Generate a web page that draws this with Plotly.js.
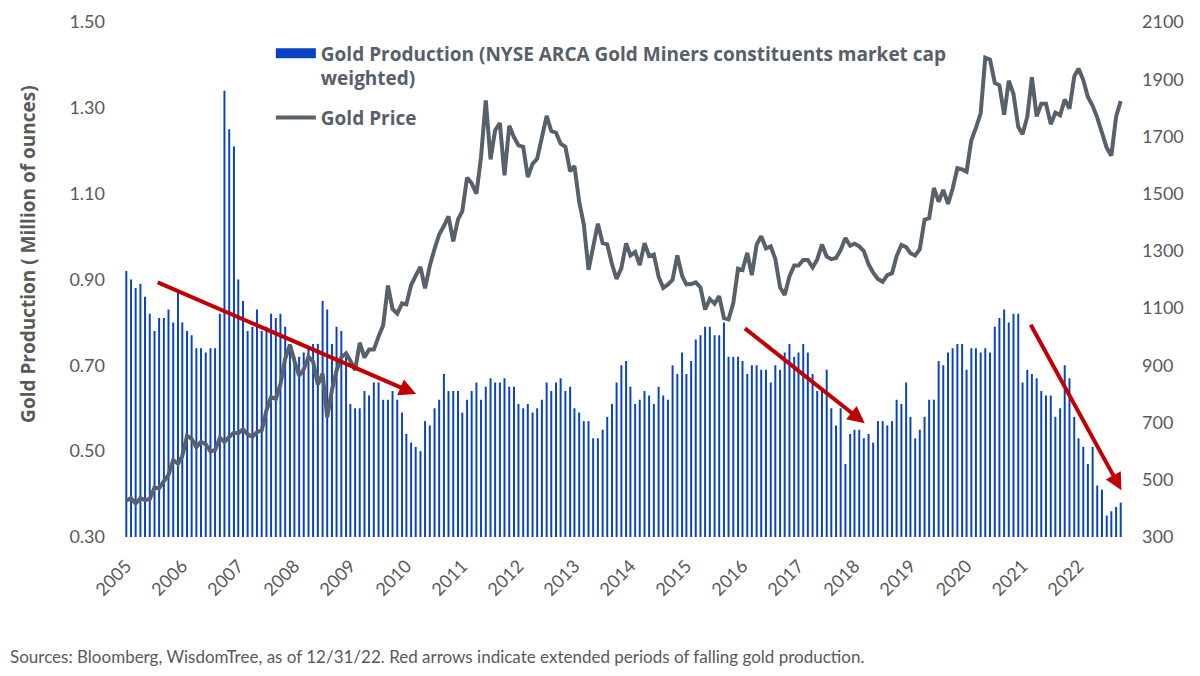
<!DOCTYPE html>
<html>
<head>
<meta charset="utf-8">
<script src="https://cdn.plot.ly/plotly-3.0.1.min.js"></script>
<style>
  html, body { margin: 0; padding: 0; background: #fff; }
  #chart { width: 1200px; height: 676px; }
</style>
</head>
<body>
<div id="chart"></div>
<script>
// monthly production, million oz (market cap weighted GDX constituents)
const production = [
    0.92, 0.90, 0.88, 0.89, 0.86, 0.82, 0.78, 0.81, 0.81, 0.83, 0.80, 0.87,
    0.80, 0.78, 0.77, 0.74, 0.74, 0.73, 0.74, 0.74, 0.82, 1.34, 1.25, 1.21,
    0.90, 0.85, 0.78, 0.79, 0.83, 0.78, 0.79, 0.82, 0.81, 0.82, 0.79, 0.75,
    0.72, 0.72, 0.73, 0.74, 0.75, 0.75, 0.85, 0.83, 0.75, 0.79, 0.78, 0.72,
    0.61, 0.60, 0.60, 0.64, 0.63, 0.66, 0.66, 0.62, 0.62, 0.64, 0.62, 0.59,
    0.54, 0.52, 0.51, 0.50, 0.57, 0.56, 0.60, 0.62, 0.68, 0.64, 0.64, 0.64,
    0.59, 0.62, 0.64, 0.66, 0.62, 0.65, 0.67, 0.66, 0.66, 0.67, 0.65, 0.65,
    0.61, 0.60, 0.61, 0.59, 0.60, 0.62, 0.66, 0.64, 0.66, 0.67, 0.64, 0.65,
    0.60, 0.59, 0.57, 0.57, 0.53, 0.53, 0.55, 0.58, 0.61, 0.66, 0.70, 0.71,
    0.65, 0.61, 0.62, 0.64, 0.63, 0.61, 0.65, 0.63, 0.62, 0.70, 0.68, 0.73,
    0.68, 0.71, 0.76, 0.77, 0.79, 0.79, 0.77, 0.77, 0.80, 0.72, 0.72, 0.72,
    0.71, 0.68, 0.70, 0.70, 0.69, 0.69, 0.66, 0.70, 0.69, 0.73, 0.75, 0.72,
    0.73, 0.75, 0.73, 0.68, 0.64, 0.64, 0.69, 0.60, 0.56, 0.60, 0.47, 0.54,
    0.55, 0.55, 0.53, 0.54, 0.52, 0.57, 0.57, 0.56, 0.57, 0.62, 0.61, 0.66,
    0.58, 0.53, 0.55, 0.58, 0.62, 0.62, 0.71, 0.70, 0.73, 0.74, 0.75, 0.75,
    0.69, 0.74, 0.74, 0.73, 0.74, 0.73, 0.79, 0.81, 0.83, 0.80, 0.82, 0.82,
    0.66, 0.69, 0.68, 0.67, 0.64, 0.63, 0.63, 0.58, 0.60, 0.70, 0.67, 0.58,
    0.53, 0.51, 0.47, 0.51, 0.42, 0.41, 0.35, 0.36, 0.37, 0.38
]

// gold price, USD/oz month end
const goldPrice = [
    428, 435, 417, 436, 429, 433, 473, 470, 495, 517,
    569, 556, 582, 654, 643, 614, 633, 624, 599, 604, 647, 632,
    650, 665, 662, 677, 659, 650, 666, 673, 743, 789, 783, 834,
    923, 972, 916, 864, 886, 930, 913, 833, 871, 718, 814, 882,
    928, 942, 916, 883, 979, 927, 955, 955, 1001, 1040, 1179, 1097,
    1081, 1117, 1113, 1180, 1213, 1244, 1169, 1248, 1307, 1357, 1387, 1421,
    1333, 1410, 1439, 1556, 1536, 1500, 1628, 1826, 1620, 1722, 1747, 1564,
    1737, 1697, 1669, 1664, 1558, 1604, 1622, 1692, 1772, 1719, 1713, 1675,
    1664, 1578, 1597, 1472, 1393, 1234, 1313, 1395, 1327, 1323, 1253, 1202,
    1240, 1326, 1284, 1296, 1250, 1327, 1282, 1287, 1210, 1171, 1183, 1199,
    1284, 1213, 1183, 1184, 1190, 1172, 1095, 1132, 1115, 1142, 1065, 1061,
    1118, 1238, 1233, 1293, 1215, 1322, 1351, 1309, 1316, 1272, 1173, 1146,
    1211, 1249, 1249, 1268, 1268, 1242, 1270, 1322, 1280, 1271, 1275, 1303,
    1345, 1318, 1325, 1316, 1299, 1253, 1224, 1202, 1192, 1215, 1222, 1282,
    1321, 1313, 1292, 1284, 1306, 1409, 1414, 1520, 1472, 1513, 1464, 1517,
    1589, 1585, 1577, 1687, 1730, 1781, 1975, 1968, 1887, 1879, 1776, 1895,
    1848, 1734, 1708, 1769, 1907, 1770, 1814, 1814, 1743, 1783, 1774, 1829,
    1797, 1909, 1937, 1897, 1838, 1807, 1766, 1711, 1660, 1633, 1769, 1824
]

const firstYear = 2005
const firstMonth = 3   // series runs Mar 2005 -> Dec 2022

let months = []
for (let i = 0; i < production.length; i++) {
    let m = firstMonth - 1 + i
    let y = firstYear + Math.floor(m / 12)
    let mm = (m % 12) + 1
    months.push(y + '-' + (mm < 10 ? '0' + mm : mm) + '-01')
}

// red arrows: [start month, start value, end month, end value] on the left axis
const arrows = [
    ['2005-09-12', 0.895, '2010-05-04', 0.633],
    ['2016-03-07', 0.789, '2018-05-07', 0.565],
    ['2021-04-18', 0.798, '2022-12-06', 0.409]
]

const grey = '#595959'
const font = 'Lato, "Open Sans", sans-serif'
const boldFont = '"Open Sans", Lato, sans-serif'
const blue = '#0a42c4'

let bars = {
    x: months,
    y: production,
    type: 'bar',
    name: 'Gold Production',
    showlegend: false,
    marker: {color: blue, line: {width: 0}},
    yaxis: 'y'
}

// legend stand-in so the swatch is a wide block like the original
let barKey = {
    x: [null],
    y: [null],
    type: 'scatter',
    mode: 'lines',
    name: 'Gold Production (NYSE ARCA Gold Miners constituents market cap<br>weighted)',
    legendgroup: 'prod',
    line: {color: blue, width: 12},
    yaxis: 'y'
}

let line = {
    x: months,
    y: goldPrice,
    type: 'scatter',
    mode: 'lines',
    name: 'Gold Price',
    legendgroup: 'price',
    line: {color: '#56616b', width: 4},
    yaxis: 'y2'
}

let annotations = arrows.map(a => ({
    xref: 'x', yref: 'y', axref: 'x', ayref: 'y',
    x: a[2], y: a[3], ax: a[0], ay: a[1],
    text: '', showarrow: true,
    arrowhead: 2, arrowsize: 0.85, arrowwidth: 4, arrowcolor: '#c00000'
}))

annotations.push({
    xref: 'paper', yref: 'paper',
    x: -0.116, y: -0.233, xanchor: 'left', yanchor: 'middle',
    text: 'Sources: Bloomberg, WisdomTree, as of 12/31/22. Red arrows indicate extended periods of falling gold production.',
    showarrow: false,
    font: {family: font, size: 17, color: grey}
})

// left axis title, sits a little above the middle in the original
annotations.push({
    xref: 'paper', yref: 'paper',
    x: -0.096, y: 0.548, xanchor: 'center', yanchor: 'middle',
    textangle: -90,
    text: 'Gold Production ( Million of ounces)',
    showarrow: false,
    font: {family: boldFont, size: 19, color: grey, weight: 'bold'}
})

let layout = {
    width: 1200,
    height: 676,
    margin: {l: 124, r: 77, t: 22, b: 139},
    paper_bgcolor: '#fff',
    plot_bgcolor: '#fff',
    font: {family: font, color: grey, size: 18},
    bargap: 0.54,
    showlegend: true,
    legend: {
        x: 0.147, y: 0.976, xanchor: 'left', yanchor: 'top',
        bgcolor: 'rgba(0,0,0,0)',
        font: {family: boldFont, size: 19, color: '#56606a', weight: 'bold'},
        itemwidth: 40,
        valign: 'top',
        traceorder: 'grouped',
        tracegroupgap: 12
    },
    xaxis: {
        type: 'date',
        range: ['2005-02-14', '2022-12-16'],
        tick0: '2005-03-01',
        dtick: 'M12',
        tickformat: '%Y',
        tickangle: -45,
        showgrid: false,
        zeroline: false,
        showline: false,
        ticks: '',
        ticklabelstandoff: 14,
        tickfont: {size: 18, color: grey}
    },
    yaxis: {
        range: [0.3, 1.5],
        tick0: 0.3,
        dtick: 0.2,
        tickformat: '.2f',
        showgrid: false,
        zeroline: false,
        showline: false,
        ticks: '',
        ticklabelstandoff: 18,
        tickfont: {size: 18, color: grey}
    },
    yaxis2: {
        overlaying: 'y',
        side: 'right',
        range: [300, 2100],
        tick0: 300,
        dtick: 200,
        showgrid: false,
        zeroline: false,
        showline: false,
        ticks: '',
        ticklabelstandoff: 18,
        tickfont: {size: 18, color: grey}
    },
    annotations: annotations
}

Plotly.newPlot('chart', [bars, barKey, line], layout, {displayModeBar: false, staticPlot: true})
</script>
</body>
</html>
